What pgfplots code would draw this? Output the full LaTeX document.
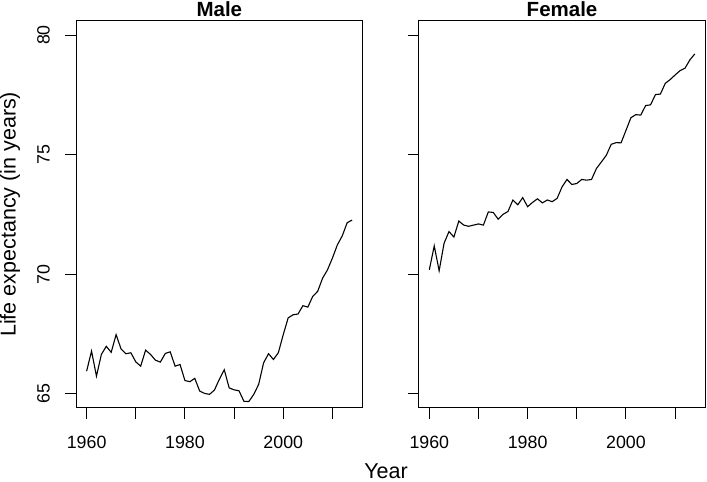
\documentclass[border=0pt]{standalone}
\usepackage{fontspec}
\setmainfont{Liberation Sans}
\usepackage{pgfplots}
\pgfplotsset{compat=1.18}

% life expectancy at birth
\pgfplotstableread{
year male female
1960 65.94 70.18
1961 66.78 71.18
1962 65.73 70.14
1963 66.64 71.29
1964 66.98 71.78
1965 66.73 71.55
1966 67.47 72.22
1967 66.87 72.05
1968 66.67 72.00
1969 66.71 72.05
1970 66.33 72.10
1971 66.15 72.05
1972 66.82 72.60
1973 66.64 72.58
1974 66.40 72.30
1975 66.32 72.50
1976 66.68 72.62
1977 66.75 73.10
1978 66.15 72.90
1979 66.22 73.20
1980 65.55 72.82
1981 65.50 73.00
1982 65.64 73.15
1983 65.11 72.98
1984 65.01 73.10
1985 64.97 73.03
1986 65.15 73.17
1987 65.60 73.65
1988 66.00 73.96
1989 65.24 73.75
1990 65.16 73.79
1991 65.12 73.96
1992 64.68 73.93
1993 64.67 73.96
1994 64.97 74.42
1995 65.39 74.69
1996 66.29 74.97
1997 66.67 75.43
1998 66.43 75.50
1999 66.71 75.49
2000 67.47 76.01
2001 68.17 76.54
2002 68.30 76.67
2003 68.33 76.65
2004 68.68 77.05
2005 68.62 77.08
2006 69.07 77.51
2007 69.28 77.53
2008 69.83 77.98
2009 70.18 78.14
2010 70.67 78.33
2011 71.22 78.51
2012 71.60 78.61
2013 72.15 78.96
2014 72.26 79.21
}\lifetab

\pgfplotsset{
  panel/.style={
    scale only axis,
    width=286.7bp, height=387.3bp,
    anchor=south west,
    xmin=1957.84, xmax=2016.16,
    ymin=64.4, ymax=80.6,
    xtick={1960,1970,...,2010},
    ytick={65,70,75,80},
    xtick pos=left, ytick pos=left,
    tick align=outside,
    major tick length=11bp,
    axis line style={line width=1bp, black},
    every tick/.style={line width=1bp, black},
    every tick label/.append style={font=\fontsize{17.8bp}{21bp}\selectfont, inner sep=0pt},
    xticklabel style={anchor=north},
    xticklabel shift=16.4bp,
    yticklabel style={rotate=90, anchor=south},
    yticklabel shift=15bp,
    every axis title/.style={at={(0.5,1)}, anchor=base, yshift=3.7bp,
      font=\fontsize{20.5bp}{25bp}\selectfont\bfseries},
  },
}

\begin{document}
\begin{tikzpicture}
\useasboundingbox (0,0) rectangle (707bp,482bp);

\begin{axis}[panel, at={(76bp,74bp)}, title={Male},
  xticklabels={1960,,1980,,2000,},
  yticklabels={65,70,75,80}]
\addplot[black, line width=1.1bp] table[x=year, y=male] {\lifetab};
\end{axis}

\begin{axis}[panel, at={(418.7bp,74bp)}, title={Female},
  xticklabels={1960,,1980,,2000,},
  yticklabels={}]
\addplot[black, line width=1.1bp] table[x=year, y=female] {\lifetab};
\end{axis}

\node[anchor=base, font=\fontsize{21.5bp}{25bp}\selectfont] at (386bp,3.5bp) {Year};
\node[anchor=base, rotate=90, font=\fontsize{21.5bp}{25bp}\selectfont] at (15.5bp,267.7bp) {Life expectancy (in years)};
\end{tikzpicture}
\end{document}
